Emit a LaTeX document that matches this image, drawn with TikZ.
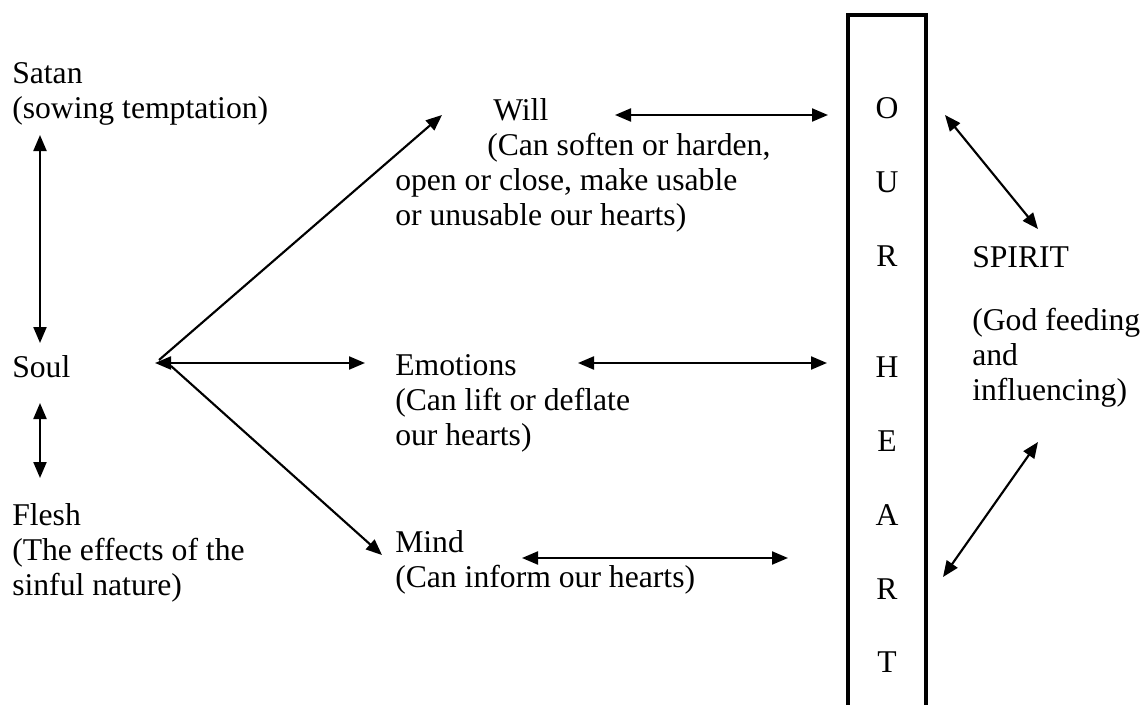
\documentclass[tikz,border=0pt]{standalone}
\usepackage{fontspec}
\setmainfont{Liberation Serif}
\usetikzlibrary{arrows.meta}
\begin{document}
\begin{tikzpicture}[x=0.75pt,y=-0.75pt,
  % multi-line nodes: the base anchor is the baseline of the LAST line
  lbl/.style={anchor=base west,inner sep=0pt,align=left,font=\fontsize{23.75}{26.25}\selectfont},
  letter/.style={anchor=base,inner sep=0pt,font=\fontsize{23.75}{26.25}\selectfont},
  both/.style={line width=1.6pt,{Triangle[length=12pt,width=9.75pt]}-{Triangle[length=12pt,width=9.75pt]}},
  one/.style={line width=1.6pt,-{Triangle[length=12pt,width=9.75pt]}},
  boxline/.style={line width=3pt}]
\useasboundingbox (0,0) rectangle (1143,704);

% left column
\node[lbl] (satan) at (12,118) {Satan\\(sowing temptation)};
\node[lbl] (soul) at (12,377) {Soul};
\node[lbl] (flesh) at (12,595) {Flesh\\(The effects of the\\sinful nature)};

% middle column
\node[lbl] (will) at (493,120) {Will};
\node[lbl] (willtxt) at (395,225) {\hspace*{69pt}(Can soften or harden,\\open or close, make usable\\or unusable our hearts)};
\node[lbl] (emotions) at (395,445) {Emotions\\(Can lift or deflate\\our hearts)};
\node[lbl] (mind) at (395,587) {Mind\\(Can inform our hearts)};

% heart box
\draw[boxline] (848,712) -- (848,15) -- (926,15) -- (926,712);
\node[letter] (h1) at (887,118) {O};
\node[letter] (h2) at (887,192) {U};
\node[letter] (h3) at (887,266) {R};
\node[letter] (h4) at (887,377) {H};
\node[letter] (h5) at (887,451) {E};
\node[letter] (h6) at (887,525) {A};
\node[letter] (h7) at (887,599) {R};
\node[letter] (h8) at (887,672) {T};

% spirit
\node[lbl] (spirit) at (972,267) {SPIRIT};
\node[lbl] (spirittxt) at (972,400) {(God feeding\\and\\influencing)};

% connector end points
\coordinate (satanA) at (40,135);
\coordinate (soulA) at (40,343);
\coordinate (soulB) at (40,403);
\coordinate (fleshA) at (40,478);
\coordinate (hub) at (155,363);
\coordinate (hubW) at (159,360);
\coordinate (hubM) at (171,366);
\coordinate (willIn) at (442,115);
\coordinate (emoIn) at (365,363);
\coordinate (mindIn) at (382,555);
\coordinate (willOut) at (615,115);
\coordinate (heartW) at (828,115);
\coordinate (emoOut) at (578,363);
\coordinate (heartE) at (827,363);
\coordinate (mindOut) at (522,558);
\coordinate (heartM) at (788,558);
\coordinate (heartS1) at (945,115);
\coordinate (spiritA) at (1038,229);
\coordinate (spiritB) at (1038,442);
\coordinate (heartS2) at (943,577);

\draw[both] (satanA) -- (soulA);
\draw[both] (soulB) -- (fleshA);
\draw[one] (hubW) -- (willIn);
\draw[both] (hub) -- (emoIn);
\draw[one] (hubM) -- (mindIn);
\draw[both] (willOut) -- (heartW);
\draw[both] (emoOut) -- (heartE);
\draw[both] (mindOut) -- (heartM);
\draw[both] (heartS1) -- (spiritA);
\draw[both] (spiritB) -- (heartS2);
\end{tikzpicture}
\end{document}
